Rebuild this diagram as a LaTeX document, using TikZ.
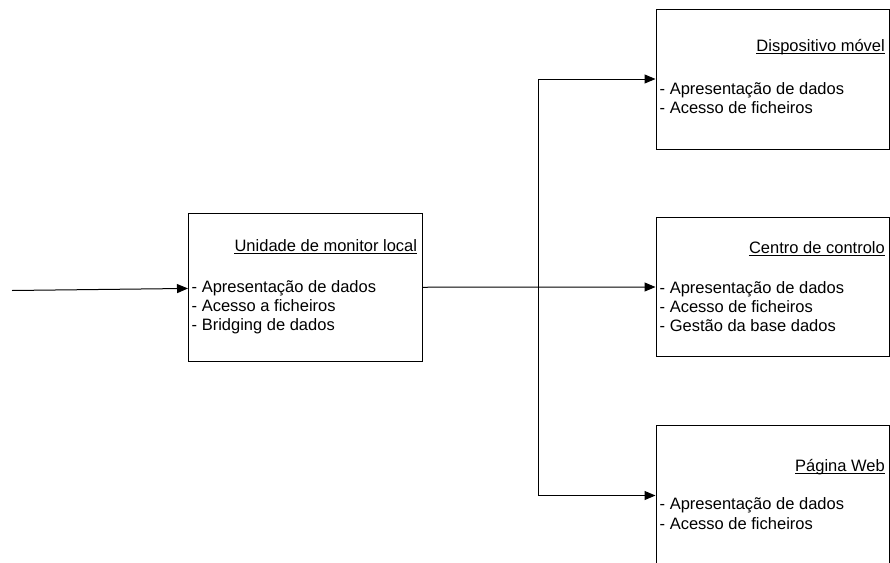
\documentclass[tikz,border=0pt]{standalone}
\usepackage{fontspec}
\setmainfont{Liberation Sans}
\usetikzlibrary{arrows.meta}

\begin{document}
\begin{tikzpicture}[x=1pt,y=-1pt,
  block/.style={draw=black,line width=1pt,rectangle,inner sep=0pt,anchor=north west},
  heading/.style={inner sep=0pt,anchor=base east,font=\fontsize{16.5}{19}\selectfont},
  item/.style={inner sep=0pt,anchor=base west,font=\fontsize{16.5}{19}\selectfont},
  link/.style={line width=1pt,-{Triangle[length=11pt,width=9pt]}},
  uline/.style={line width=0.8pt}]
\useasboundingbox (0,0) rectangle (890,562);

% boxes
\node[block,minimum width=233.7pt,minimum height=147.5pt] (ulm) at (188,213) {};
\node[block,minimum width=233.5pt,minimum height=140pt] (dm) at (655.5,8.5) {};
\node[block,minimum width=233.5pt,minimum height=139pt] (cc) at (655.5,217) {};
\node[block,minimum width=233.5pt,minimum height=140pt] (pw) at (655.5,425) {};

% local monitor unit
\node[heading] (ulm-t) at (417.3,251) {Unidade de monitor local};
\node[item] (ulm-1) at (191.5,292) {- Apresentação de dados};
\node[item] (ulm-2) at (191.5,311) {- Acesso a ficheiros};
\node[item] (ulm-3) at (191.5,330) {- Bridging de dados};

% mobile device
\node[heading] (dm-t) at (885,51.5) {Dispositivo móvel};
\node[item] (dm-1) at (659.5,94.5) {- Apresentação de dados};
\node[item] (dm-2) at (659.5,113.5) {- Acesso de ficheiros};

% control centre
\node[heading] (cc-t) at (885,253) {Centro de controlo};
\node[item] (cc-1) at (659.5,293) {- Apresentação de dados};
\node[item] (cc-2) at (659.5,312) {- Acesso de ficheiros};
\node[item] (cc-3) at (659.5,331) {- Gestão da base dados};

% web page
\node[heading] (pw-t) at (885,471) {Página Web};
\node[item] (pw-1) at (659.5,509.5) {- Apresentação de dados};
\node[item] (pw-2) at (659.5,529) {- Acesso de ficheiros};

% heading underlines
\foreach \t in {ulm-t,dm-t,cc-t,pw-t}
  \draw[uline] ([yshift=-2.2pt]\t.base west) -- ([yshift=-2.2pt]\t.base east);

% connectors
\coordinate (src) at (12,290.5);
\coordinate (jn) at (538.3,286.7);
\draw[link] (src) -- ([yshift=-1.2pt]ulm.west);
\draw[link] (ulm.east) -- (cc.west);
\draw[link] (jn) |- (dm.west);
\draw[link] (jn) |- (pw.west);
\end{tikzpicture}
\end{document}
